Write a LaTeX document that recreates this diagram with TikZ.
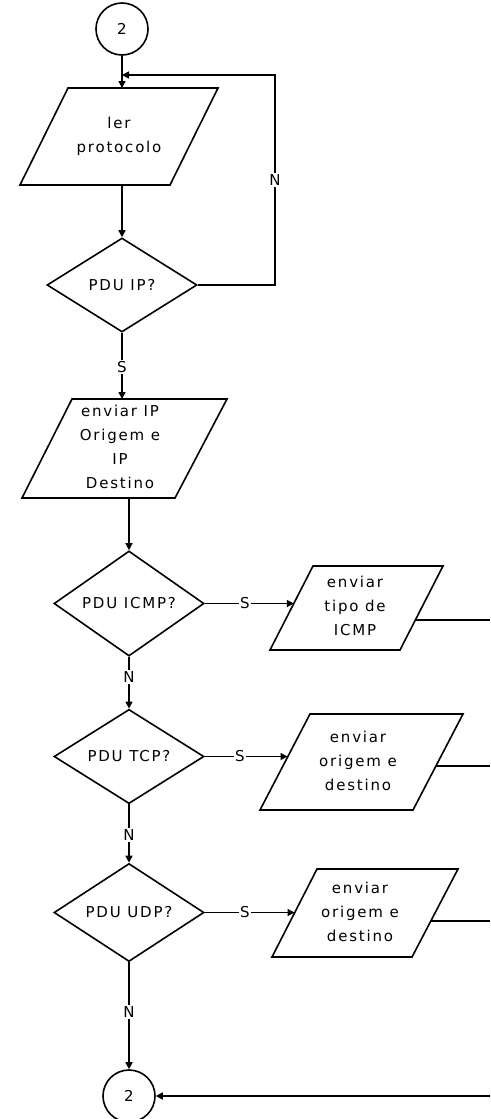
\documentclass[tikz,border=0pt]{standalone}
\usepackage{fontspec}
\setmainfont{DejaVu Sans}[LetterSpace=12]
\usetikzlibrary{shapes.geometric,calc,arrows.meta}
\newcommand\paral[7]{%
  \coordinate (#1-tl) at (#2,#4); \coordinate (#1-tr) at (#3,#4);
  \coordinate (#1-bl) at (#5,#7); \coordinate (#1-br) at (#6,#7);
  \draw (#1-tl) -- (#1-tr) -- (#1-br) -- (#1-bl) -- cycle;}
\begin{document}
\begin{tikzpicture}[x=1pt,y=-1pt, line width=1.6pt,
  every node/.style={font=\fontsize{15}{24}\selectfont},
  dec/.style={diamond, draw, minimum width=150pt, minimum height=94pt, inner sep=0pt, align=center},
  conn/.style={circle, draw, minimum size=52pt, inner sep=0pt},
  lbl/.style={fill=white, inner sep=1.5pt},
  txt/.style={align=center, inner sep=0pt},
  arr/.style={-{Triangle[length=7pt,width=7pt]}}]
\useasboundingbox (0,0) rectangle (490,1119);
\coordinate (edge) at (490,0);
\coordinate (loopx) at (275,0);

% connectors / circles
\node[conn] (c1) at (122,29) {2};
\node[conn] (c2) at (129,1096) {2};

% parallelograms
\paral{p1}{68}{218}{88}{20}{170}{185}
\node[txt] (t1) at (119,136) {ler\\protocolo};
\paral{p2}{72}{227}{399}{22}{175}{498}
\node[txt] (t2) at (120,447) {enviar IP\\Origem e\\IP\\Destino};
\paral{p3}{313}{443}{566}{270}{400}{650}
\node[txt] (t3) at (355,606) {enviar\\tipo de\\ICMP};
\paral{p4}{310}{463}{714}{260}{413}{810}
\node[txt] (t4) at (358,761) {enviar\\origem e\\destino};
\paral{p5}{317}{458}{869}{272}{412}{957}
\node[txt] (t5) at (360,912) {enviar\\origem e\\destino};

% decisions
\node[dec] (d1) at (122,285) {PDU IP?};
\node[dec] (d2) at (129,603.5) {PDU ICMP?};
\node[dec] (d3) at (129,756.5) {PDU TCP?};
\node[dec] (d4) at (129,912.5) {PDU UDP?};

% edge points
\coordinate (p3-in) at ($(p3-tl)!0.446!(p3-bl)$);
\coordinate (p4-in) at ($(p4-tl)!0.45!(p4-bl)$);
\coordinate (p5-in) at ($(p5-tl)!0.5!(p5-bl)$);
\coordinate (p3-out) at ($(p3-tr)!0.64!(p3-br)$);
\coordinate (p4-out) at ($(p4-tr)!0.54!(p4-br)$);
\coordinate (p5-out) at ($(p5-tr)!0.59!(p5-br)$);
\coordinate (j1) at (122,75);

% flow
\draw[arr] (c1.south) -- (c1.south |- p1-tl);
\draw[arr] (d1.north |- p1-bl) -- (d1.north);
\draw[arr] (d1.east) -| (loopx |- j1) -- (j1);
\node[lbl] at (275,180) {N};
\draw[arr] (d1.south) -- (d1.south |- p2-tl);
\node[lbl] at (122,367) {S};
\draw[arr] (d2.north |- p2-bl) -- (d2.north);

\draw[arr] (d2.east) -- (d2.east -| p3-in);
\node[lbl] at (245,603.5) {S};
\draw[arr] (d3.east) -- (d3.east -| p4-in);
\node[lbl] at (240,756.5) {S};
\draw[arr] (d4.east) -- (d4.east -| p5-in);
\node[lbl] at (245,912.5) {S};

\draw[arr] (d2.south) -- (d3.north);
\node[lbl] at (129,677) {N};
\draw[arr] (d3.south) -- (d4.north);
\node[lbl] at (129,835) {N};
\draw[arr] (d4.south) -- (c2.north);
\node[lbl] at (129,1012) {N};

\draw (p3-out) -- (p3-out -| edge);
\draw (p4-out) -- (p4-out -| edge);
\draw (p5-out) -- (p5-out -| edge);
\draw[arr] (c2.east -| edge) -- (c2.east);
\end{tikzpicture}
\end{document}
